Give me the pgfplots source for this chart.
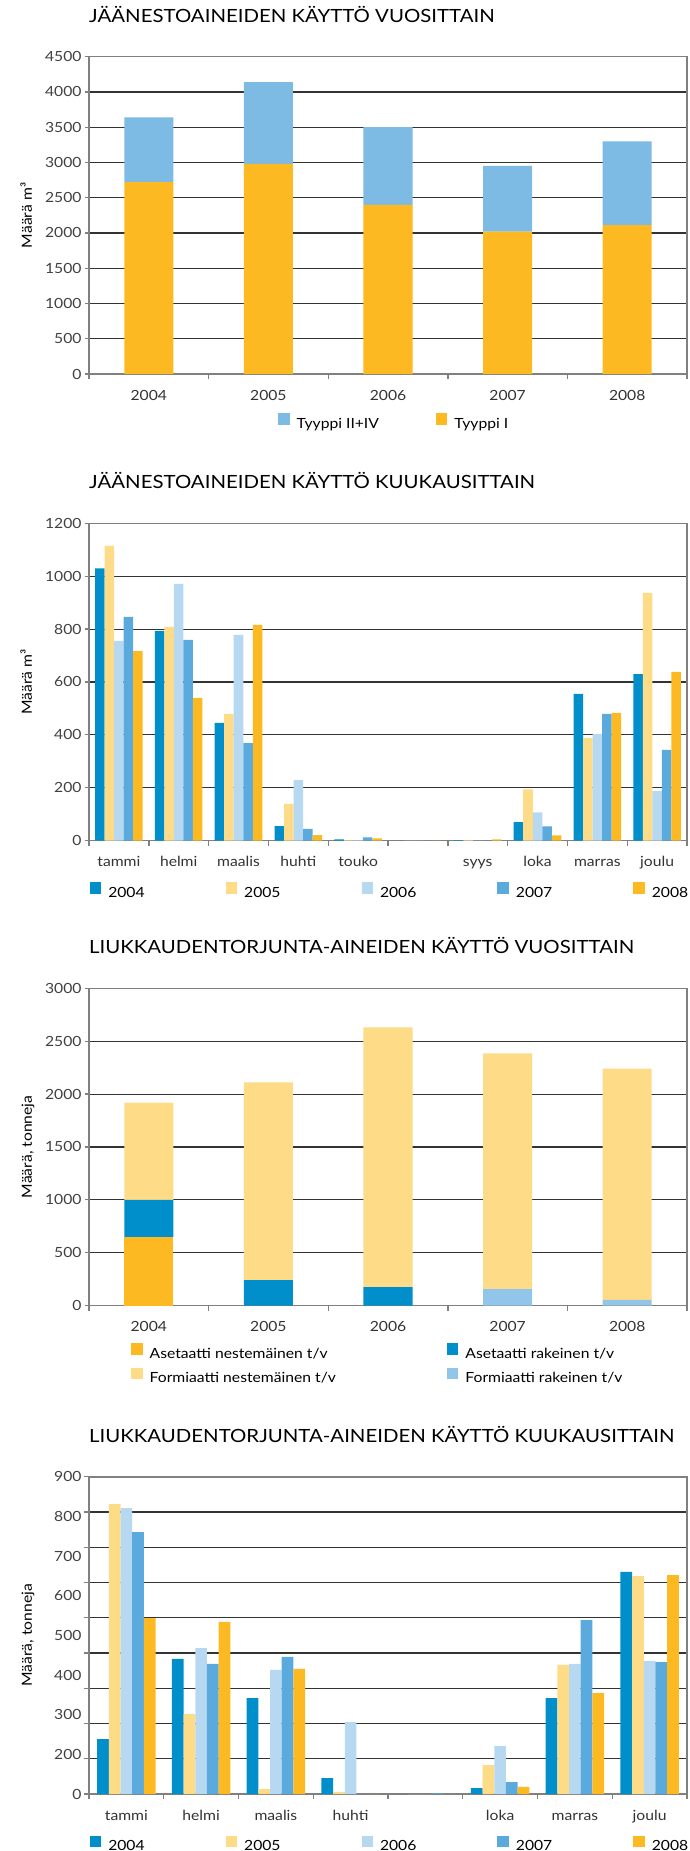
\documentclass[border=0pt]{standalone}
\usepackage{fontspec}
\setmainfont{Lato}[FakeStretch=1.12]
\usepackage{pgfplots}
\pgfplotsset{compat=1.18}

\definecolor{cDeep}{HTML}{008FCB}
\definecolor{cCream}{HTML}{FEDB87}
\definecolor{cPale}{HTML}{B6D9F1}
\definecolor{cMid}{HTML}{5BAADD}
\definecolor{cAmber}{HTML}{FDB922}
\definecolor{cSky}{HTML}{7DBAE4}
\definecolor{cIce}{HTML}{92C5EA}
\definecolor{frameGray}{HTML}{808080}
\definecolor{gridGray}{HTML}{333333}

\pgfplotsset{
  sqlegend/.style={legend image code/.code={\fill[##1] (0pt,-1pt) rectangle (11.5pt,10.5pt);}},
  panel/.style={
    scale only axis, width=598pt, height=317.3pt, anchor=north west,
    axis line style={draw=frameGray, line width=1.6pt},
    tick align=outside, xtick pos=bottom, ytick pos=left,
    major tick length=4pt, minor tick length=5pt,
    every major y tick/.append style={draw=frameGray, line width=1.2pt},
    every major x tick/.append style={draw=none},
    every minor x tick/.append style={draw=frameGray, line width=1.4pt},
    ymajorgrids,
    major grid style={draw=gridGray, line width=1.1pt},
    /pgf/number format/assume math mode=true,
    /pgf/number format/1000 sep={},
    xticklabel style={anchor=base, yshift=-22pt, text=black!80},
    yticklabel style={text=black!75},
    ylabel style={at={(axis description cs:-0.105,0.5)}, anchor=center},
    title style={at={(axis description cs:0,1)}, anchor=base west, yshift=28.5pt,
      inner sep=0pt, font=\fontsize{18.2}{21}\selectfont},
    legend cell align=left,
    legend style={draw=none, fill=none, inner sep=0pt, nodes={inner sep=0pt},
      /tikz/every odd column/.append style={column sep=7pt}},
    every axis plot post/.append style={sqlegend, draw=none},
  },
}

\begin{document}
\begin{tikzpicture}[font=\fontsize{14}{17}\selectfont]
\useasboundingbox (0pt,0pt) rectangle (690pt,-1851pt);

% Yearly use of de-icing fluids, stacked by type
\begin{axis}[panel, at={(89pt,-56.7pt)},
  title={JÄÄNESTOAINEIDEN KÄYTTÖ VUOSITTAIN},
  ybar stacked, bar width=0.41,
  xmin=0.5, xmax=5.5, ymin=0, ymax=4500,
  xtick={1,...,5}, xticklabels={2004,2005,2006,2007,2008},
  minor xtick={0.5,1.5,...,5.5},
  ytick={0,500,...,4500},
  ylabel={Määrä m³},
  legend columns=2, reverse legend,
  legend style={at={(axis description cs:0.316,-0.150)}, anchor=west,
    /tikz/every even column/.append style={column sep=57pt}},
]
\addplot[fill=cAmber] coordinates {(1,2720) (2,2980) (3,2400) (4,2020) (5,2110)};
\addlegendentry{Tyyppi I}
\addplot[fill=cSky] coordinates {(1,920) (2,1160) (3,1100) (4,930) (5,1190)};
\addlegendentry{Tyyppi II+IV}
\end{axis}

% Monthly use of de-icing fluids
\begin{axis}[panel, at={(89pt,-523.3pt)},
  title={JÄÄNESTOAINEIDEN KÄYTTÖ KUUKAUSITTAIN},
  ybar=0pt, bar width=0.159,
  xmin=0.5, xmax=10.5, ymin=0, ymax=1200,
  xtick={1,...,10},
  xticklabels={tammi,helmi,maalis,huhti,touko,{},syys,loka,marras,joulu},
  minor xtick={0.5,1.5,...,10.5},
  ytick={0,200,...,1200},
  ylabel={Määrä m³},
  legend columns=5,
  legend style={at={(axis description cs:0.001,-0.1576)}, anchor=west,
    /tikz/every even column/.append style={column sep=81pt}},
]
\addplot[fill=cDeep] coordinates {(1,1030) (2,793) (3,445) (4,55) (5,5) (6,0) (7,2) (8,70) (9,555) (10,630)};
\addlegendentry{2004}
\addplot[fill=cCream] coordinates {(1,1115) (2,808) (3,479) (4,139) (5,2) (6,0) (7,2) (8,194) (9,388) (10,937)};
\addlegendentry{2005}
\addplot[fill=cPale] coordinates {(1,755) (2,971) (3,778) (4,229) (5,2) (6,0) (7,0) (8,107) (9,403) (10,188)};
\addlegendentry{2006}
\addplot[fill=cMid] coordinates {(1,846) (2,759) (3,369) (4,44) (5,12) (6,0) (7,0) (8,54) (9,479) (10,343)};
\addlegendentry{2007}
\addplot[fill=cAmber] coordinates {(1,717) (2,540) (3,816) (4,21) (5,8) (6,0) (7,5) (8,20) (9,483) (10,638)};
\addlegendentry{2008}
\end{axis}

% Yearly use of anti-skid chemicals, stacked by product
\begin{axis}[panel, at={(89pt,-988.3pt)},
  title={LIUKKAUDENTORJUNTA-AINEIDEN KÄYTTÖ VUOSITTAIN},
  ybar stacked, bar width=0.41,
  xmin=0.5, xmax=5.5, ymin=0, ymax=3000,
  xtick={1,...,5}, xticklabels={2004,2005,2006,2007,2008},
  minor xtick={0.5,1.5,...,5.5},
  ytick={0,500,...,3000},
  ylabel={Määrä, tonneja},
  ylabel style={at={(axis description cs:-0.102,0.5)}},
  legend columns=2,
  legend style={at={(axis description cs:0.0702,-0.1833)}, anchor=west,
    row sep=8pt,
    /tikz/every even column/.append style={column sep=111pt}},
]
\addplot[fill=cAmber, forget plot] coordinates {(1,650) (2,0) (3,0) (4,0) (5,0)};
\addplot[fill=cDeep, forget plot] coordinates {(1,350) (2,240) (3,175) (4,0) (5,0)};
\addplot[fill=cIce, forget plot] coordinates {(1,0) (2,0) (3,0) (4,155) (5,55)};
\addplot[fill=cCream, forget plot] coordinates {(1,920) (2,1870) (3,2455) (4,2230) (5,2185)};
\addlegendimage{sqlegend, fill=cAmber}
\addlegendentry{Asetaatti nestemäinen t/v}
\addlegendimage{sqlegend, fill=cDeep}
\addlegendentry{Asetaatti rakeinen t/v}
\addlegendimage{sqlegend, fill=cCream}
\addlegendentry{Formiaatti nestemäinen t/v}
\addlegendimage{sqlegend, fill=cIce}
\addlegendentry{Formiaatti rakeinen t/v}
\end{axis}

% Monthly use of anti-skid chemicals
\begin{axis}[panel, at={(89pt,-1476.7pt)},
  title={LIUKKAUDENTORJUNTA-AINEIDEN KÄYTTÖ KUUKAUSITTAIN},
  ybar=0pt, bar width=0.156,
  xmin=0.5, xmax=8.5, ymin=0, ymax=900,
  xtick={1,...,8},
  xticklabels={tammi,helmi,maalis,huhti,{},loka,marras,joulu},
  minor xtick={0.5,1.5,...,8.5},
  ymajorgrids=false, yminorgrids,
  minor grid style={draw=gridGray, line width=1.1pt},
  minor ytick={0,100,...,900},
  every minor y tick/.append style={draw=frameGray, line width=1.2pt},
  every major y tick/.append style={draw=none},
  ytick={0,112.5,225,337.5,450,562.5,675,787.5,900},
  yticklabels={0,200,300,400,500,600,700,800,900},
  ylabel={Määrä, tonneja},
  ylabel style={at={(axis description cs:-0.102,0.5)}},
  legend columns=5,
  legend style={at={(axis description cs:0.001,-0.1576)}, anchor=west,
    /tikz/every even column/.append style={column sep=81pt}},
]
\addplot[fill=cDeep] coordinates {(1,156) (2,383) (3,272) (4,45) (5,0) (6,17) (7,272) (8,630)};
\addlegendentry{2004}
\addplot[fill=cCream] coordinates {(1,822) (2,227) (3,14) (4,6) (5,0) (6,82) (7,366) (8,618)};
\addlegendentry{2005}
\addplot[fill=cPale] coordinates {(1,811) (2,414) (3,352) (4,204) (5,0) (6,136) (7,369) (8,377)};
\addlegendentry{2006}
\addplot[fill=cMid] coordinates {(1,743) (2,369) (3,389) (4,0) (5,2) (6,34) (7,493) (8,374)};
\addlegendentry{2007}
\addplot[fill=cAmber] coordinates {(1,499) (2,488) (3,355) (4,0) (5,0) (6,20) (7,286) (8,621)};
\addlegendentry{2008}
\end{axis}
\end{tikzpicture}
\end{document}
